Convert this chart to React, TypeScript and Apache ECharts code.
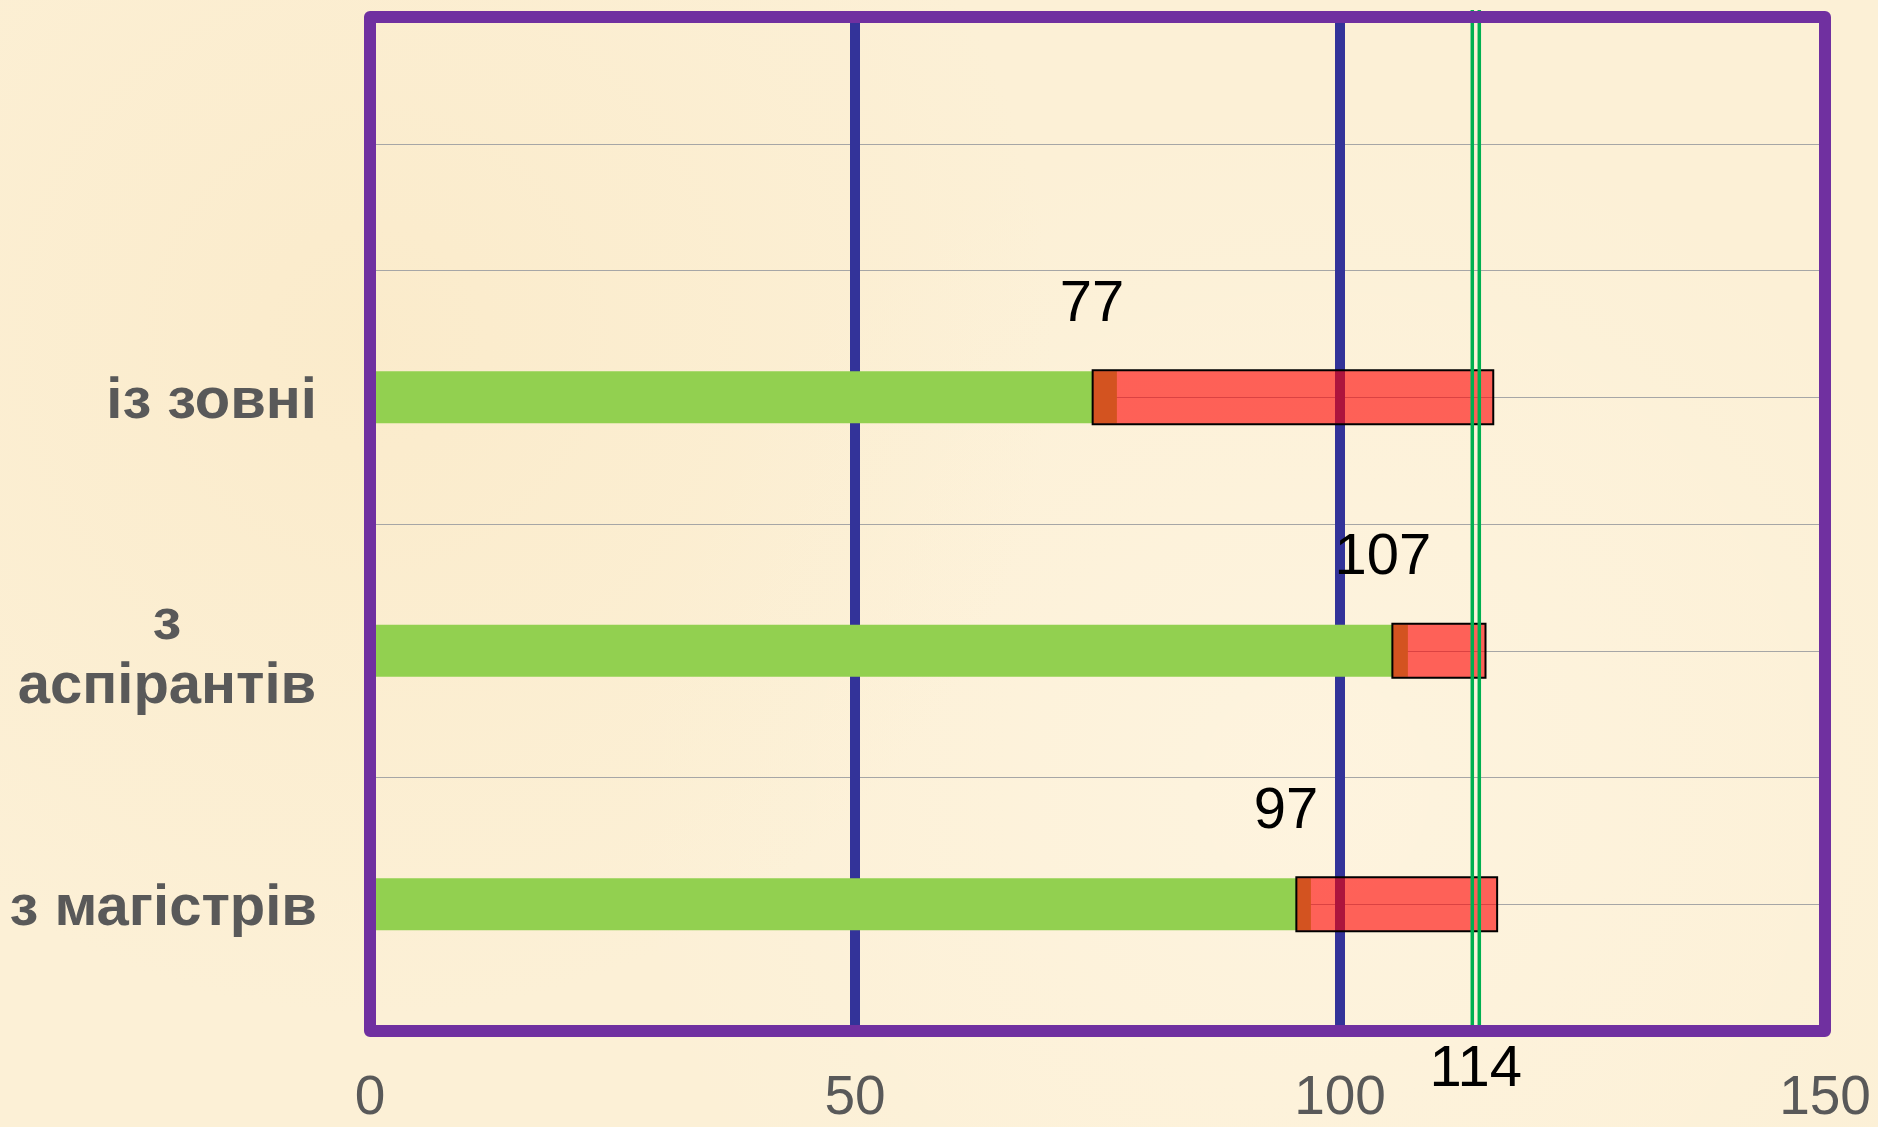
import React, { useEffect, useRef } from "react";
import * as echarts from "echarts";

// Categories from top to bottom (the top band is left empty)
const categories = ["", "із зовні", "з аспірантів", "з магістрів"];
// Accepted count per group (green bars)
const acceptedValues = [null, 77, 107, 97];
// Shortfall range per group (red boxes): start and end on the value axis
const gapStart = [null, 74.5, 105.4, 95.5];
const gapEnd = [null, 115.8, 115.0, 116.2];
// Target level (double green line)
const targetValue = 114;
// Value axis ticks
const xMin = 0;
const xMax = 150;
const xInterval = 50;

const FONT = "'Liberation Sans', Arial, Helvetica, sans-serif";
const GRID = { left: 370, right: 53, top: 17, bottom: 96 };
const CHART_W = 1878;
const CHART_H = 1127;
const maxLabelChars = 11;

export default function App() {
  const ref = useRef<HTMLDivElement>(null);

  useEffect(() => {
    if (!ref.current) return;
    const chart = echarts.init(ref.current, undefined, { renderer: "svg" });

    const gapData = categories
      .map((_, i) => (gapStart[i] == null ? null : [gapStart[i], gapEnd[i], i]))
      .filter((d) => d !== null);

    const option: any = {
      animation: false,
      backgroundColor: "transparent",
      grid: { ...GRID, containLabel: false },
      xAxis: {
        type: "value",
        min: xMin,
        max: xMax,
        interval: xInterval,
        axisLine: { show: false },
        axisTick: { show: false },
        axisLabel: {
          color: "#595959",
          fontSize: 55,
          lineHeight: 62,
          fontFamily: FONT,
          margin: 33,
          showMinLabel: true,
          showMaxLabel: true,
        },
        splitLine: {
          show: true,
          showMinLine: false,
          showMaxLine: false,
          lineStyle: { color: "#333399", width: 10 },
        },
      },
      yAxis: [
        {
          type: "category",
          data: categories,
          inverse: true,
          axisLine: { show: false },
          axisTick: { show: false },
          splitLine: { show: false },
          axisLabel: {
            color: "#595959",
            fontSize: 58,
            fontWeight: "bold",
            fontFamily: FONT,
            margin: 53,
            align: "right",
            lineHeight: 64,
            formatter: (v: string) => {
              if (v.length > maxLabelChars) {
                const k = v.indexOf(" ");
                return "{c|" + v.slice(0, k) + "}\n{c|" + v.slice(k + 1) + "}";
              }
              return v;
            },
            rich: {
              c: {
                width: 300,
                align: "center",
                color: "#595959",
                fontSize: 58,
                fontWeight: "bold",
                fontFamily: FONT,
                lineHeight: 64,
              },
            },
          },
        },
        {
          // helper axis for the thin horizontal rules
          type: "value",
          min: 0,
          max: 8,
          interval: 1,
          position: "right",
          axisLine: { show: false },
          axisTick: { show: false },
          axisLabel: { show: false },
          splitLine: {
            show: true,
            lineStyle: { color: "#a6a6a6", width: 1.2 },
          },
        },
      ],
      series: [
        {
          name: "accepted",
          type: "bar",
          yAxisIndex: 0,
          data: acceptedValues,
          barWidth: 52,
          z: 2,
          itemStyle: { color: "#92d050" },
          label: {
            show: true,
            position: "right",
            distance: 0,
            align: "center",
            verticalAlign: "middle",
            offset: [-25, -97],
            formatter: "{c}",
            color: "#000000",
            fontSize: 58,
            fontFamily: FONT,
          },
        },
        {
          name: "gap",
          type: "custom",
          yAxisIndex: 0,
          z: 3,
          data: gapData,
          encode: { x: [0, 1], y: 2 },
          renderItem: (params: any, api: any) => {
            const s = api.coord([api.value(0), api.value(2)]);
            const e = api.coord([api.value(1), api.value(2)]);
            const h = 54;
            return {
              type: "rect",
              shape: { x: s[0], y: s[1] - h / 2, width: e[0] - s[0], height: h },
              style: {
                fill: "rgba(255,0,0,0.6)",
                stroke: "#000000",
                lineWidth: 2,
              },
            };
          },
        },
        {
          name: "target",
          type: "custom",
          yAxisIndex: 0,
          z: 4,
          clip: false,
          data: [[targetValue, 0]],
          encode: { x: 0, y: 1 },
          renderItem: (params: any, api: any) => {
            const cs = params.coordSys;
            const x = api.coord([api.value(0), 0])[0];
            const y0 = cs.y - 7;
            const y1 = cs.y + cs.height - 6;
            const lineStyle = { stroke: "#00b050", lineWidth: 3.5 };
            return {
              type: "group",
              children: [
                { type: "line", shape: { x1: x - 3.5, y1: y0, x2: x - 3.5, y2: y1 }, style: lineStyle },
                { type: "line", shape: { x1: x + 3.5, y1: y0, x2: x + 3.5, y2: y1 }, style: lineStyle },
                {
                  type: "text",
                  style: {
                    text: String(api.value(0)),
                    x: x,
                    y: cs.y + cs.height + 5,
                    fill: "#000000",
                    fontSize: 58,
                    fontFamily: FONT,
                    align: "center",
                    verticalAlign: "top",
                  },
                },
              ],
            };
          },
        },
      ],
      graphic: [
        {
          type: "rect",
          z: 100,
          silent: true,
          shape: {
            x: GRID.left,
            y: GRID.top,
            width: CHART_W - GRID.left - GRID.right,
            height: CHART_H - GRID.top - GRID.bottom,
          },
          style: {
            fill: "none",
            stroke: "#7030a0",
            lineWidth: 12,
            lineJoin: "round",
          },
        },
      ],
    };

    chart.setOption(option);
    return () => chart.dispose();
  }, []);

  return (
    <div
      style={{
        position: "fixed",
        left: 0,
        top: 0,
        width: CHART_W,
        height: CHART_H,
        background:
          "radial-gradient(circle at 20% 30%, rgba(250,232,196,0.6), rgba(250,232,196,0) 40%)," +
          "radial-gradient(circle at 70% 70%, rgba(255,246,228,0.6), rgba(255,246,228,0) 45%)," +
          "#fcf0d6",
      }}
    >
      <div ref={ref} style={{ width: CHART_W, height: CHART_H }} />
    </div>
  );
}
